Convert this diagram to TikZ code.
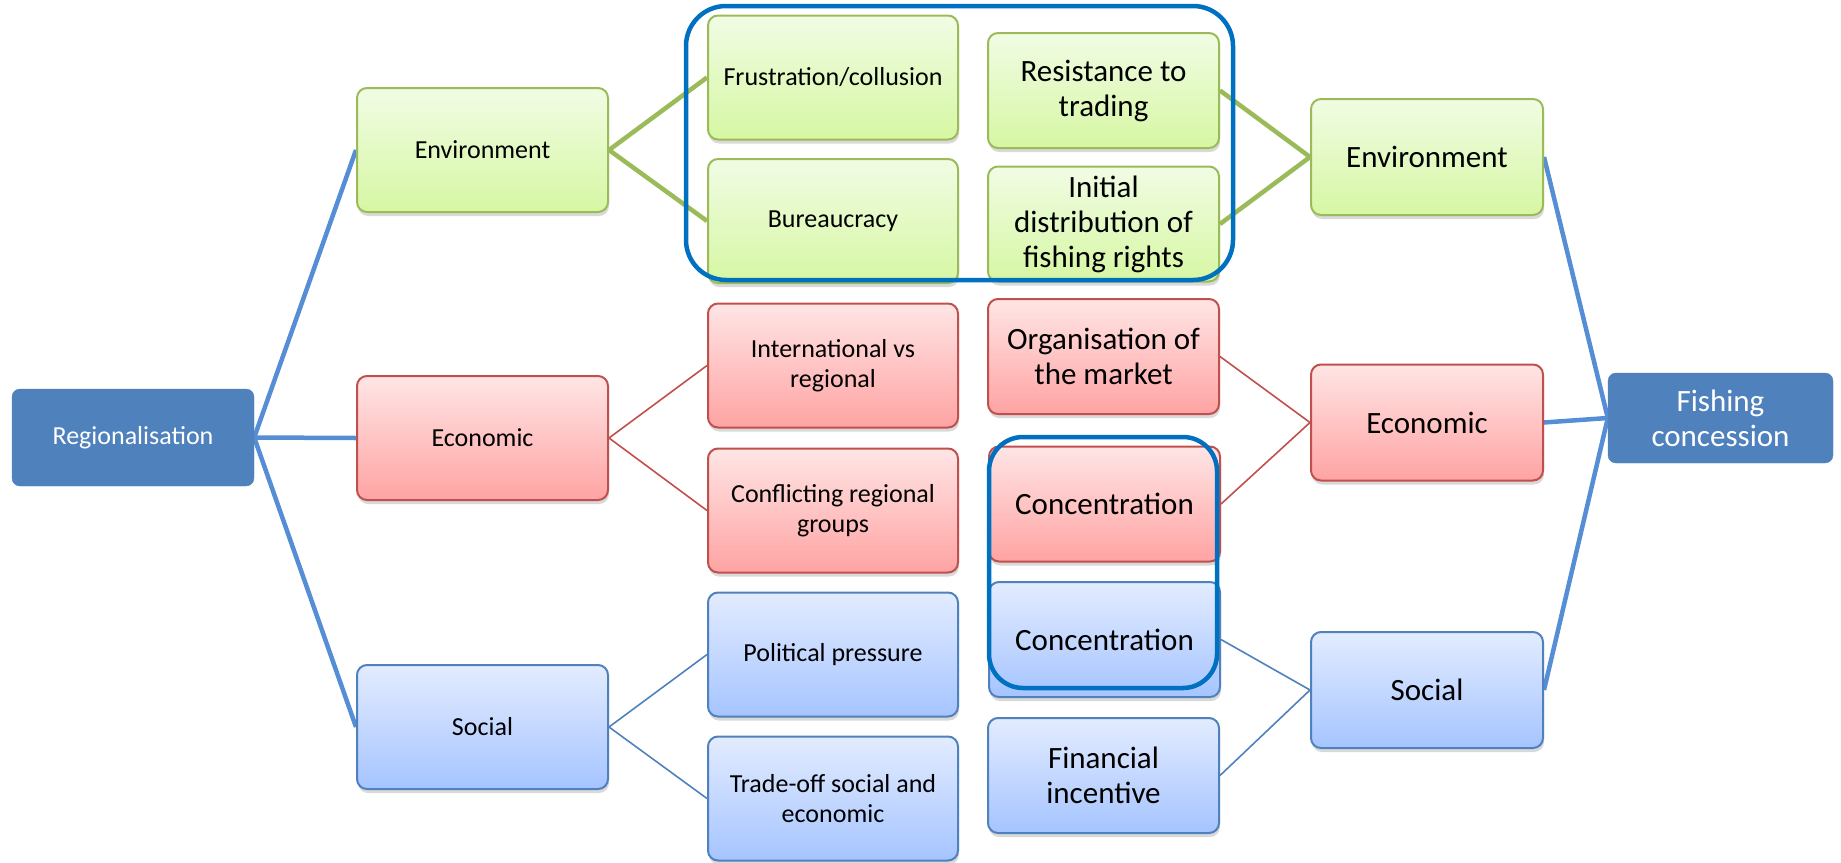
\documentclass[tikz,border=0pt]{standalone}
\usepackage{fontspec}
\setmainfont{Carlito}
\usetikzlibrary{shadows}
\definecolor{gTop}{HTML}{F1FCE4}
\definecolor{gBot}{HTML}{D6F7A3}
\definecolor{gLine}{HTML}{9BBB59}
\definecolor{rTop}{HTML}{FFE5E5}
\definecolor{rBot}{HTML}{FFA3A3}
\definecolor{rLine}{HTML}{C0504D}
\definecolor{bTop}{HTML}{E3ECFF}
\definecolor{bBot}{HTML}{A5C4FF}
\definecolor{bLine}{HTML}{4F81BD}
\definecolor{dBlue}{HTML}{4F81BD}
\definecolor{cBlue}{HTML}{558ED5}
\definecolor{hBlue}{HTML}{0070C0}
\pgfdeclarelayer{bg}
\pgfsetlayers{bg,main}
\tikzset{
  basebox/.style={rounded corners=10pt, line width=2pt, inner sep=0pt, align=center,
    drop shadow={shadow xshift=1pt, shadow yshift=-4pt, opacity=0.3}},
  smalltxt/.style={font=\fontsize{26}{30}\selectfont},
  bigtxt/.style={font=\fontsize{31}{35}\selectfont},
  gbox/.style={basebox, draw=gLine, top color=gTop, bottom color=gBot},
  rbox/.style={basebox, draw=rLine, top color=rTop, bottom color=rBot},
  bbox/.style={basebox, draw=bLine, top color=bTop, bottom color=bBot},
  dbox/.style={rounded corners=8pt, fill=dBlue, draw=dBlue, text=white, inner sep=0pt, align=center},
  colA/.style={minimum width=251pt, minimum height=124pt, smalltxt},
  colB/.style={minimum width=250pt, minimum height=124pt, smalltxt},
  colC/.style={minimum width=231pt, minimum height=115pt, bigtxt},
  colD/.style={minimum width=232pt, minimum height=116pt, bigtxt},
  thickblue/.style={draw=cBlue, line width=4.5pt},
  thickgreen/.style={draw=gLine, line width=4.5pt},
  thinred/.style={draw=rLine, line width=1.6pt},
  thinblue/.style={draw=bLine, line width=1.6pt},
  highlight/.style={draw=hBlue, line width=4.5pt}
}
\begin{document}
\begin{tikzpicture}[x=1pt,y=-1pt]
\useasboundingbox (0,0) rectangle (1841,862);
% left root
\node[dbox, minimum width=242pt, minimum height=97pt, smalltxt] (reg) at (133,437.5) {Regionalisation};
% column A
\node[gbox, colA] (env1) at (482.5,150) {Environment};
\node[rbox, colA] (eco1) at (482.5,438) {Economic};
\node[bbox, colA] (soc1) at (482.5,727) {Social};
% column B
\node[gbox, colB] (frus) at (833,77.5) {Frustration/collusion};
\node[gbox, colB] (bur) at (833,221) {Bureaucracy};
\node[rbox, colB] (intl) at (833,365.5) {International vs\\regional};
\node[rbox, colB] (conf) at (833,510.5) {Conflicting regional\\groups};
\node[bbox, colB] (pol) at (833,654.5) {Political pressure};
\node[bbox, colB] (trade) at (833,798.5) {Trade-off social and\\economic};
% column C
\node[gbox, colC] (res) at (1103.5,90.5) {Resistance to\\trading};
\node[gbox, colC] (init) at (1103.5,224) {Initial\\distribution of\\fishing rights};
\node[rbox, colC] (org) at (1103.5,356.5) {Organisation of\\the market};
\node[rbox, colC] (conc1) at (1104.5,504) {Concentration};
\node[bbox, colC] (conc2) at (1104.5,639.5) {Concentration};
\node[bbox, colC] (fin) at (1103.5,775.5) {Financial\\incentive};
% column D
\node[gbox, colD] (env2) at (1427,157) {Environment};
\node[rbox, colD] (eco2) at (1427,422.5) {Economic};
\node[bbox, colD] (soc2) at (1427,690) {Social};
% right root
\node[dbox, minimum width=225pt, minimum height=90pt, bigtxt] (fish) at (1720.5,418) {Fishing\\concession};
% connectors
\begin{pgfonlayer}{bg}
\draw[thickblue] (reg.east) -- (env1.west);
\draw[thickblue] (reg.east) -- (eco1.west);
\draw[thickblue] (reg.east) -- (soc1.west);
\draw[thickgreen] (env1.east) -- (frus.west);
\draw[thickgreen] (env1.east) -- (bur.west);
\draw[thinred] (eco1.east) -- (intl.west);
\draw[thinred] (eco1.east) -- (conf.west);
\draw[thinblue] (soc1.east) -- (pol.west);
\draw[thinblue] (soc1.east) -- (trade.west);
\draw[thickgreen] (res.east) -- (env2.west);
\draw[thickgreen] (init.east) -- (env2.west);
\draw[thinred] (org.east) -- (eco2.west);
\draw[thinred] (conc1.east) -- (eco2.west);
\draw[thinblue] (conc2.east) -- (soc2.west);
\draw[thinblue] (fin.east) -- (soc2.west);
\draw[thickblue] (env2.east) -- (fish.west);
\draw[thickblue] (eco2.east) -- (fish.west);
\draw[thickblue] (soc2.east) -- (fish.west);
\end{pgfonlayer}
% highlight frames
\coordinate (hA1) at (686,6);
\coordinate (hA2) at (1233,280);
\coordinate (hB1) at (989,437);
\coordinate (hB2) at (1217,688);
\draw[highlight, rounded corners=40pt] (hA1) rectangle (hA2);
\draw[highlight, rounded corners=34pt] (hB1) rectangle (hB2);
\end{tikzpicture}
\end{document}
